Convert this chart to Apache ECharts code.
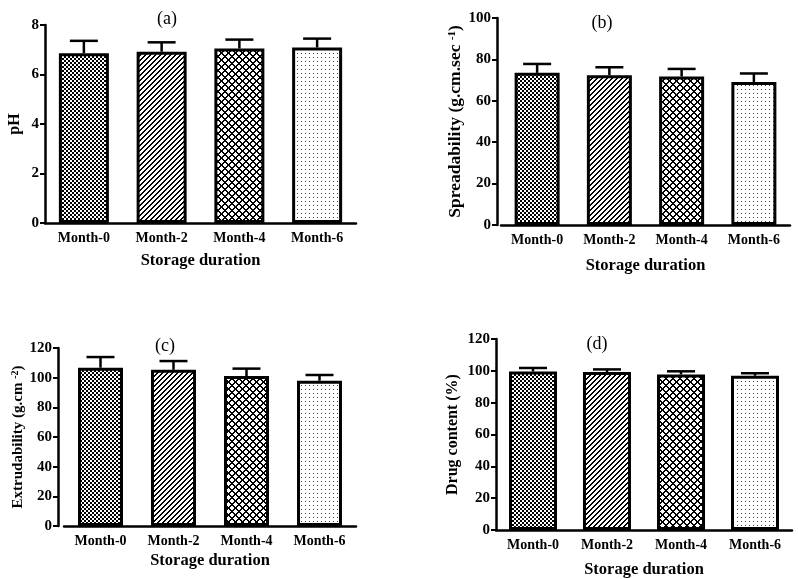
<!DOCTYPE html>
<html>
<head>
<meta charset="utf-8">
<script src="https://cdn.jsdelivr.net/npm/echarts@6/dist/echarts.min.js"></script>
<style>
html,body{margin:0;padding:0;background:#fff;}
#c{width:798px;height:579px;}
</style>
</head>
<body>
<div id="c"></div>
<script>
const categories = ['Month-0', 'Month-2', 'Month-4', 'Month-6'];
const phMean = [6.86, 6.92, 7.05, 7.09];
const phErr = [0.50, 0.38, 0.36, 0.36];
const spreadMean = [73.5, 72.3, 71.7, 69.1];
const spreadErr = [4.3, 3.9, 3.7, 4.1];
const extrudeMean = [106.7, 105.3, 101.1, 97.9];
const extrudeErr = [7.2, 5.9, 5.0, 3.9];
const drugMean = [99.6, 99.2, 97.7, 96.9];
const drugErr = [2.2, 1.7, 2.0, 1.6];
const panelTitles = ['(a)', '(b)', '(c)', '(d)'];
const xName = 'Storage duration';

function makeCanvas(w, h, draw) {
  const c = document.createElement('canvas');
  c.width = w; c.height = h;
  const ctx = c.getContext('2d');
  ctx.fillStyle = '#fff';
  ctx.fillRect(0, 0, w, h);
  draw(ctx);
  return c;
}
const patChecker = makeCanvas(4, 4, ctx => {
  ctx.fillStyle = '#000';
  ctx.fillRect(0, 0, 2, 2);
  ctx.fillRect(2, 2, 2, 2);
});
const patDiag = makeCanvas(5, 5, ctx => {
  ctx.fillStyle = '#000';
  for (let i = 0; i < 5; i++) {
    ctx.fillRect(i, 4 - i, 1, 1);
    ctx.fillRect((i + 1) % 5, 4 - i, 1, 1);
  }
});
const patDiamond = makeCanvas(7, 7, ctx => {
  ctx.fillStyle = '#000';
  for (let x = 0; x < 7; x++) for (let y = 0; y < 7; y++) {
    if (((x + y) % 7) < 2 || (((x - y) % 7 + 7) % 7) < 2) ctx.fillRect(x, y, 1, 1);
  }
});
const patDots = makeCanvas(4, 4, ctx => {
  ctx.fillStyle = '#444';
  ctx.fillRect(1, 1, 1, 1);
});
const patterns = [patChecker, patDiag, patDiamond, patDots];

const FONT = 'Liberation Serif';
const chart = echarts.init(document.getElementById('c'));

const grids = [
  {left: 45, right: 442, top: 25, bottom: 356},
  {left: 501, right: 8, top: 18, bottom: 354},
  {left: 64, right: 442, top: 348, bottom: 53},
  {left: 496, right: 6, top: 339, bottom: 49}
];
const yOffsets = [0, 4, 6, 0];
const yMax = [8, 100, 120, 120];
const yInt = [2, 20, 20, 20];
const yNameGaps = [22, 32, 29, 35];
const yNameSizes = [16, 17.5, 15, 16];
const xNameGaps = [29, 32, 26, 31];
const barWidths = [50, 45, 45, 48];
const means = [phMean, spreadMean, extrudeMean, drugMean];
const errs = [phErr, spreadErr, extrudeErr, drugErr];

function richName(fs) {
  return {
    n: {fontFamily: FONT, fontWeight: 'bold', fontSize: fs, color: '#000'},
    s: {fontFamily: FONT, fontWeight: 'bold', fontSize: Math.round(fs * 0.65), color: '#000', verticalAlign: 'top', padding: [0, 0, 6, 0]}
  };
}
const yNameText = [
  '{n|pH}',
  '{n|Spreadability (g.cm.sec }{s|-1}{n|)}',
  '{n|Extrudability (g.cm }{s|-2}{n|)}',
  '{n|Drug content (%)}'
];

const xAxes = [], yAxes = [], series = [];
for (let i = 0; i < 4; i++) {
  xAxes.push({
    gridIndex: i, type: 'category', data: categories,
    name: xName, nameLocation: 'middle', nameGap: xNameGaps[i],
    nameTextStyle: {fontFamily: FONT, fontWeight: 'bold', fontSize: 16.5, color: '#000'},
    axisLine: {lineStyle: {color: '#000', width: 2.5}},
    axisTick: {alignWithLabel: true, length: 5, lineStyle: {color: '#000', width: 2}},
    axisLabel: {fontFamily: FONT, fontWeight: 'bold', fontSize: 14, color: '#000', margin: 8, interval: 0}
  });
  yAxes.push({
    gridIndex: i, type: 'value', min: 0, max: yMax[i], interval: yInt[i], offset: yOffsets[i],
    name: yNameText[i], nameLocation: 'middle', nameGap: yNameGaps[i],
    nameTextStyle: {rich: richName(yNameSizes[i])},
    axisLine: {show: true, lineStyle: {color: '#000', width: 2.5}},
    axisTick: {show: true, length: 5, lineStyle: {color: '#000', width: 2}},
    axisLabel: {fontFamily: FONT, fontWeight: 'bold', fontSize: 15, color: '#000', margin: 6},
    splitLine: {show: false}
  });
  series.push({
    type: 'custom', xAxisIndex: i, yAxisIndex: i, z: 1,
    data: means[i].map((m, k) => [k, m, errs[i][k]]),
    renderItem: (params, api) => {
      const x = api.value(0), v = api.value(1), e = api.value(2);
      const p0 = api.coord([x, v]);
      const p1 = api.coord([x, v + e]);
      const st = {stroke: '#000', lineWidth: 2.5};
      return {type: 'group', children: [
        {type: 'line', shape: {x1: p0[0], y1: p0[1], x2: p1[0], y2: p1[1]}, style: st},
        {type: 'line', shape: {x1: p1[0] - 14, y1: p1[1], x2: p1[0] + 14, y2: p1[1]}, style: st}
      ]};
    }
  });
  series.push({
    type: 'bar', xAxisIndex: i, yAxisIndex: i, z: 2, barWidth: barWidths[i],
    data: means[i].map((m, k) => ({
      value: m,
      itemStyle: {color: {image: patterns[k], repeat: 'repeat'}, borderColor: '#000', borderWidth: 3}
    }))
  });
}

const titlePos = [[167, 19], [602, 23], [165, 346], [597, 344]];
const graphics = panelTitles.map((t, i) => ({
  type: 'text', x: titlePos[i][0], y: titlePos[i][1],
  style: {text: t, fontFamily: FONT, fontSize: 18, fill: '#000', textAlign: 'center', textVerticalAlign: 'middle'}
}));

chart.setOption({
  animation: false,
  grid: grids,
  xAxis: xAxes,
  yAxis: yAxes,
  series: series,
  graphic: graphics
});
</script>
</body>
</html>
